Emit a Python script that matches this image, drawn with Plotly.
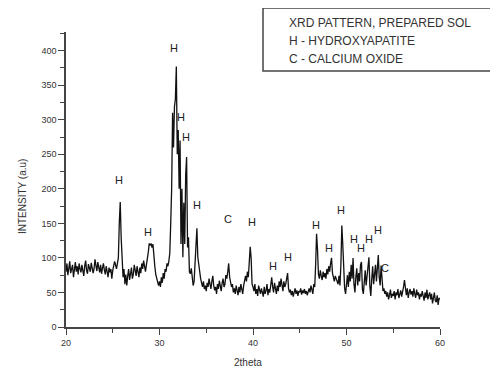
import plotly.graph_objects as go

# 2-theta sampling grid (0.1 degree steps, 20..60)
two_theta = [round(20 + 0.1 * i, 1) for i in range(401)]

intensity = [
    80, 92, 75, 88, 95, 78, 85, 90, 72, 86,        # 20
    94, 80, 88, 76, 92, 84, 79, 90, 83, 74,        # 21
    88, 96, 82, 77, 91, 85, 80, 93, 86, 78,        # 22
    84, 98, 89, 81, 94, 86, 79, 90, 77, 85,        # 23
    92, 83, 76, 88, 80, 72, 86, 79, 84, 70,        # 24
    82, 88, 95, 90, 84, 92, 100, 150, 181, 130,    # 25
    88, 72, 84, 62, 76, 60, 74, 84, 68, 78,        # 26
    86, 70, 76, 90, 82, 74, 88, 80, 72, 86,        # 27
    78, 92, 84, 96, 88, 80, 90, 98, 108, 121,      # 28
    118, 121, 115, 120, 98, 88, 76, 70, 64, 60,    # 29
    66, 58, 72, 64, 78, 70, 84, 80, 92, 88,        # 30
    95, 107, 150, 200, 310, 260, 319, 330, 377, 250,  # 31
    285, 200, 270, 120, 200, 101, 180, 120, 220, 246, # 32
    115, 130, 80, 77, 85, 72, 60, 66, 95, 110,     # 33
    143, 101, 88, 76, 70, 64, 58, 66, 55, 60,      # 34
    52, 64, 58, 70, 62, 55, 66, 74, 60, 53,        # 35
    58, 48, 62, 55, 67, 60, 52, 64, 70, 58,        # 36
    62, 75, 70, 80, 92, 72, 66, 58, 62, 50,        # 37
    56, 48, 60, 52, 46, 58, 50, 62, 54, 48,        # 38
    60, 68, 74, 66, 80, 72, 90, 116, 100, 62,      # 39
    58, 52, 62, 48, 55, 45, 60, 52, 48, 56,        # 40
    50, 44, 58, 48, 53, 62, 46, 55, 50, 60,        # 41
    72, 58, 50, 64, 55, 48, 60, 52, 66, 58,        # 42
    70, 60, 52, 66, 58, 62, 70, 78, 56, 50,        # 43
    54, 46, 52, 44, 50, 56, 48, 53, 45, 52,        # 44
    50, 56, 47, 53, 49, 55, 48, 52, 46, 54,        # 45
    56, 50, 60, 54, 48, 62, 58, 90, 135, 112,      # 46
    76, 70, 82, 74, 68, 80, 72, 78, 70, 84,        # 47
    76, 88, 80, 92, 100, 78, 70, 66, 74, 70,       # 48
    68, 62, 74, 60, 90, 147, 120, 70, 56, 48,      # 49
    62, 75, 58, 80, 66, 90, 70, 100, 62, 50,       # 50
    72, 85, 60, 78, 66, 90, 94, 55, 48, 70,        # 51
    82, 60, 76, 92, 101, 58, 45, 70, 88, 62,       # 52
    74, 90, 66, 80, 104, 72, 60, 89, 62, 52,       # 53
    56, 48, 52, 44, 50, 40, 46, 54, 42, 48,        # 54
    45, 52, 40, 50, 46, 55, 42, 48, 53, 44,        # 55
    50, 58, 68, 52, 46, 56, 42, 50, 55, 47,        # 56
    52, 44, 56, 48, 42, 54, 46, 50, 40, 48,        # 57
    44, 52, 46, 38, 50, 42, 54, 40, 46, 50,        # 58
    40, 48, 34, 44, 50, 38, 36, 46, 32, 42,        # 59
    40,                                            # 60
]

# Phase labels (H = hydroxyapatite, C = calcium oxide)
label_text = ["H", "H", "H", "H", "H", "H", "C", "H", "H", "H",
              "H", "H", "H", "H", "H", "H", "H", "C"]
label_x = [25.67, 28.77, 31.55, 32.3, 32.83, 34.0, 37.33, 39.9, 42.14, 43.74,
           46.74, 48.13, 49.41, 50.8, 51.55, 52.4, 53.37, 54.12]
label_y = [213, 137, 404, 304, 275, 176, 157, 152, 88, 102,
           147, 115, 169, 127, 115, 127, 141, 85]

x_ticks = [20, 30, 40, 50, 60]
y_ticks = [0, 50, 100, 150, 200, 250, 300, 350, 400]

legend_lines = ["XRD PATTERN, PREPARED SOL", "H - HYDROXYAPATITE", "C - CALCIUM OXIDE"]

# Layout geometry (window pixels); page body has an 8px default margin
BODY = 8
W, H = 498, 376
PL, PR, PT, PB = 66, 440, 32, 327   # plot area in window pixels


def px(xw):
    return (xw - PL) / (PR - PL)


def py(yw):
    return (PB - yw) / (PB - PT)


FONT = "Liberation Sans, Arial"

fig = go.Figure()
fig.add_trace(go.Scatter(
    x=two_theta, y=intensity, mode="lines",
    line=dict(color="#111111", width=1.3),
    showlegend=False, hoverinfo="skip",
))

annotations = []
for t, lx, ly in zip(label_text, label_x, label_y):
    annotations.append(dict(
        x=lx, y=ly, xref="x", yref="y", text=t, showarrow=False,
        font=dict(family=FONT, size=11, color="#222222"),
    ))

legend_y = [23, 41, 59]
for t, yy in zip(legend_lines, legend_y):
    annotations.append(dict(
        x=px(287), y=py(yy), xref="paper", yref="paper",
        text=t, showarrow=False, xanchor="left", yanchor="middle",
        font=dict(family=FONT, size=12, color="#333333"),
    ))

annotations.append(dict(
    x=px(248), y=py(362), xref="paper", yref="paper",
    text="2theta", showarrow=False, xanchor="center", yanchor="middle",
    font=dict(family=FONT, size=10, color="#333333"),
))
annotations.append(dict(
    x=px(22), y=py(197), xref="paper", yref="paper",
    text="INTENSITY (a.u)", textangle=-90, showarrow=False,
    xanchor="center", yanchor="middle",
    font=dict(family=FONT, size=10, color="#333333"),
))

axis_common = dict(
    showgrid=False, zeroline=False, showline=True,
    linecolor="#444444", linewidth=1.5,
    ticks="outside", ticklen=6, tickwidth=1.2, tickcolor="#444444",
    tickfont=dict(family=FONT, size=9, color="#333333"),
)

fig.update_layout(
    width=W, height=H,
    margin=dict(l=PL - BODY, r=W - (PR - BODY), t=PT - BODY, b=H - (PB - BODY)),
    paper_bgcolor="white", plot_bgcolor="white",
    xaxis=dict(range=[20, 60], tickvals=x_ticks,
               minor=dict(dtick=5, ticks="outside", ticklen=4, tickcolor="#444444"),
               **axis_common),
    yaxis=dict(range=[0, 427], tickvals=y_ticks,
               minor=dict(dtick=25, ticks="outside", ticklen=4, tickcolor="#444444"),
               **axis_common),
    annotations=annotations,
    shapes=[dict(
        type="rect", xref="paper", yref="paper",
        x0=px(263), x1=px(495), y0=py(71), y1=py(8),
        line=dict(color="#444444", width=1.5), fillcolor="rgba(0,0,0,0)",
    )],
)

fig.write_html("out.html")
